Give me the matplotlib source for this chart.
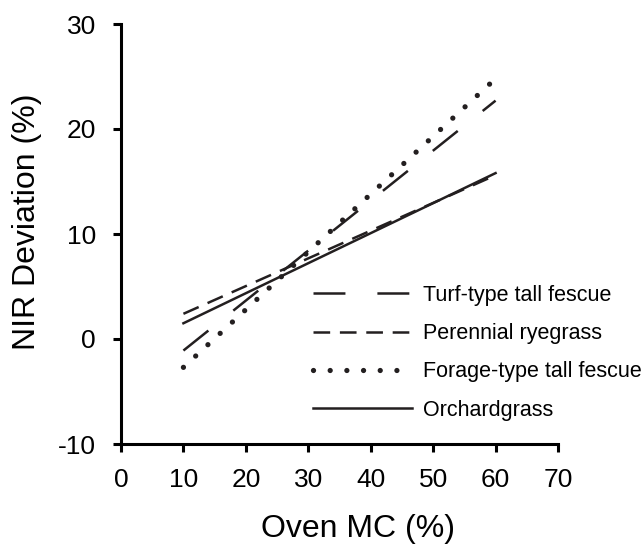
import matplotlib
matplotlib.use("Agg")
import matplotlib.pyplot as plt

plt.rcParams['font.family'] = ['Liberation Sans', 'DejaVu Sans']
plt.rcParams['lines.scale_dashes'] = False
plt.rcParams['axes.unicode_minus'] = False

# Data (regression lines: endpoints)
oven_mc = [10, 60]
turf_type = [-1.1, 22.7]
perennial = [2.4, 15.6]
forage_type = [-2.7, 24.8]
orchardgrass = [1.5, 15.8]

labels = ["Turf-type tall fescue", "Perennial ryegrass",
          "Forage-type tall fescue", "Orchardgrass"]
xticks = [0, 10, 20, 30, 40, 50, 60, 70]
yticks = [-10, 0, 10, 20, 30]

W, H = 641, 547
fig = plt.figure(figsize=(W / 100, H / 100), dpi=100)
ax = fig.add_axes([121 / W, 1 - 444 / H, 437 / W, 420 / H])

c = '#231f20'
ax.plot(oven_mc, turf_type, color=c, lw=1.8, dashes=(23, 23), label=labels[0])
ax.plot(oven_mc, perennial, color=c, lw=1.8, dashes=(12, 7), label=labels[1])
ax.plot(oven_mc, forage_type, color=c, lw=3.8, dashes=(0.01, 12),
        dash_capstyle='round', label=labels[2])
ax.plot(oven_mc, orchardgrass, color=c, lw=1.8, label=labels[3])

ax.set_xlim(0, 70)
ax.set_ylim(-10, 30)
ax.set_xticks(xticks)
ax.set_yticks(yticks)
ax.spines['top'].set_visible(False)
ax.spines['right'].set_visible(False)
for s in ['left', 'bottom']:
    ax.spines[s].set_linewidth(2.2)
    ax.spines[s].set_color('black')
ax.tick_params(axis='both', direction='out', length=6, width=2.2,
               labelsize=19)
ax.tick_params(axis='x', pad=11)
ax.tick_params(axis='y', pad=12)

fig.text(358 / W, 1 - 529 / H, "Oven MC (%)", fontsize=23,
         ha='center', va='center')
fig.text(27 / W, 1 - 222 / H, "NIR Deviation (%)", fontsize=23,
         ha='center', va='center', rotation=90)

leg = ax.legend(loc='upper left', bbox_to_anchor=(313 / W, 1 - 285 / H),
                bbox_transform=fig.transFigure, frameon=False, fontsize=15.5,
                handlelength=4.6, handletextpad=0.5, labelspacing=0.8,
                borderpad=0, borderaxespad=0)

fig.savefig("out.png", dpi=100)
